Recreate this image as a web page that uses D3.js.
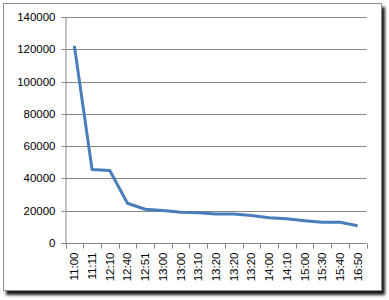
<!DOCTYPE html>
<html lang="en">
<head>
  <meta charset="UTF-8" />
  <title>Line chart</title>
  <script src="https://d3js.org/d3.v7.min.js"></script>
  <style>
    body {
      margin: 0;
      background: #fff;
      font-family: 'Liberation Sans', Arial, sans-serif;
    }
    .grid line {
      stroke: #868686;
      stroke-width: 1px;
    }
    .axis text {
      font-size: 11.5px;
      fill: #000;
    }
  </style>
</head>
<body>
  <svg id="chart"></svg>
  <script>
    // Category labels along the x axis
    const labels = ["11:00", "11:11", "12:10", "12:40", "12:51", "13:00", "13:00", "13:10",
                    "13:20", "13:20", "13:20", "14:00", "14:10", "15:00", "15:30", "15:40", "16:50"];
    // Series values
    const values = [122200, 45600, 44900, 24600, 20900, 20200, 19000, 18800,
                    17900, 17900, 17000, 15700, 15000, 13800, 12800, 12800, 10700];
    const yTicks = [0, 20000, 40000, 60000, 80000, 100000, 120000, 140000];

    const W = 389, H = 300;
    const svg = d3.select("#chart").attr("width", W).attr("height", H);

    // picture frame with a soft shadow on the bottom and right
    const defs = svg.append("defs");
    const f = defs.append("filter").attr("id", "shadow")
      .attr("x", "-5%").attr("y", "-5%").attr("width", "115%").attr("height", "115%");
    f.append("feGaussianBlur").attr("in", "SourceAlpha").attr("stdDeviation", 1.5);
    f.append("feOffset").attr("dx", 3).attr("dy", 4).attr("result", "b");
    f.append("feComponentTransfer").append("feFuncA").attr("type", "linear").attr("slope", 0.9);
    const m = f.append("feMerge");
    m.append("feMergeNode");
    m.append("feMergeNode").attr("in", "SourceGraphic");

    svg.append("rect")
      .attr("x", 3.5).attr("y", 3.5).attr("width", 378).attr("height", 287)
      .attr("fill", "#fff").attr("stroke", "#8c8c8c").attr("stroke-width", 1)
      .attr("filter", "url(#shadow)");

    const plot = { left: 65.5, right: 366.5, top: 17, bottom: 243 };

    const x = d3.scaleBand()
      .domain(d3.range(labels.length))
      .range([plot.left, plot.right]);

    const y = d3.scaleLinear()
      .domain([0, 140000])
      .range([plot.bottom, plot.top]);

    // horizontal gridlines
    svg.append("g").attr("class", "grid")
      .selectAll("line")
      .data(yTicks.filter(d => d > 0))
      .join("line")
      .attr("x1", plot.left).attr("x2", plot.right)
      .attr("y1", d => Math.round(y(d)) + 0.5).attr("y2", d => Math.round(y(d)) + 0.5);

    // y axis
    const yAxis = svg.append("g").attr("class", "axis")
      .attr("transform", `translate(${plot.left},0)`)
      .call(d3.axisLeft(y).tickValues(yTicks).tickSize(4).tickPadding(6).tickFormat(d3.format("d")));
    yAxis.select(".domain").attr("stroke", "#868686");
    yAxis.selectAll(".tick line").attr("stroke", "#868686");
    yAxis.selectAll(".tick").attr("transform", d => `translate(0,${Math.round(y(d)) + 0.5})`);

    // x axis: ticks at the band boundaries, labels rotated
    const xg = svg.append("g").attr("class", "axis")
      .attr("transform", `translate(0,${plot.bottom + 0.5})`);
    xg.append("line")
      .attr("x1", plot.left).attr("x2", plot.right)
      .attr("stroke", "#868686");
    xg.selectAll(".tk")
      .data(d3.range(labels.length + 1))
      .join("line")
      .attr("class", "tk")
      .attr("x1", i => Math.round(plot.left + i * x.step()) + 0.5)
      .attr("x2", i => Math.round(plot.left + i * x.step()) + 0.5)
      .attr("y1", 0).attr("y2", 5)
      .attr("stroke", "#868686");
    xg.selectAll("text")
      .data(labels)
      .join("text")
      .attr("transform", (d, i) => `translate(${x(i) + x.bandwidth() / 2 + 4},9) rotate(-90)`)
      .attr("text-anchor", "end")
      .text(d => d);

    // the series line
    const line = d3.line()
      .x((d, i) => x(i) + x.bandwidth() / 2)
      .y(d => y(d));

    svg.append("path")
      .datum(values)
      .attr("fill", "none")
      .attr("stroke", "#4a7ebb")
      .attr("stroke-width", 3)
      .attr("stroke-linejoin", "round")
      .attr("d", line);
  </script>
</body>
</html>
